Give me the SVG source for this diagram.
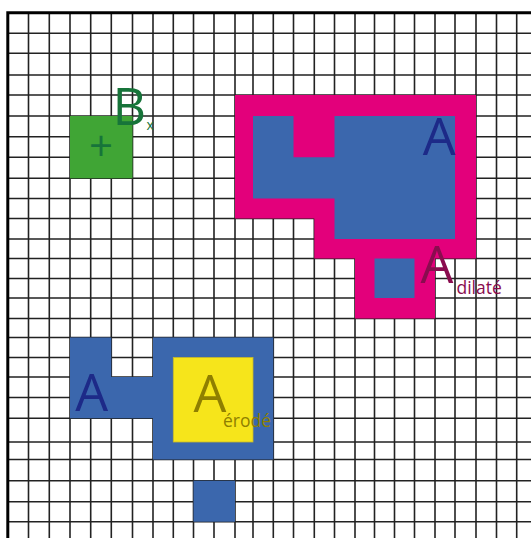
<svg xmlns="http://www.w3.org/2000/svg" width="531" height="538" viewBox="0 0 531 538">
<style>
.grid{fill:none;stroke:#222;stroke-width:1.6}
.border{fill:none;stroke:#000;stroke-width:3}
.blue{fill:#3b67ad}
.mag{fill:#e3007b}
.green{fill:#40a535}
.yellow{fill:#f6e51b;stroke:#c8b82a;stroke-width:0.8}
text{font-family:"Open Sans","DejaVu Sans",sans-serif}
.big{font-size:52px}
.navy{fill:#1d2a88}
.dgreen{fill:#17743a}
.maroon{fill:#8a0c4f}
.olive{fill:#8f7f00}
</style>
<rect width="531" height="538" fill="#fff"/>
<g id="grid">
<path class="grid" d="M28.5 12V538M49.3 12V538M70 12V538M90.7 12V538M111.3 12V538M132.5 12V538M153 12V538M173.3 12V538M193.5 12V538M214 12V538M235 12V538M253 12V538M273.3 12V538M293.5 12V538M314.3 12V538M334.5 12V538M355 12V538M374.5 12V538M394.5 12V538M414.5 12V538M435 12V538M455 12V538M476 12V538M496.5 12V538M516.7 12V538"/>
<path class="grid" d="M7 33.3H531M7 53.3H531M7 75H531M7 95H531M7 116H531M7 136.7H531M7 157.3H531M7 178.3H531M7 198.5H531M7 218.5H531M7 239H531M7 258.5H531M7 278.5H531M7 298H531M7 318.5H531M7 337.5H531M7 357.5H531M7 377H531M7 397.5H531M7 418.3H531M7 442H531M7 459.5H531M7 480.7H531M7 501.7H531M7 521.7H531"/>
<path class="border" d="M531 12.8H7.8V538"/>
</g>
<g id="B">
<rect class="green" x="70" y="116" width="62.5" height="62.3"/>
<text class="dgreen" x="101" y="161" font-size="42" text-anchor="middle">+</text>
<text class="dgreen big" x="112.5" y="124.5">B</text>
<text class="dgreen" x="146.5" y="129.5" font-size="14">x</text>
</g>
<g id="A-dilate">
<polygon class="mag" points="235,95 476,95 476,258.5 435,258.5 435,318.5 355,318.5 355,258.5 314.3,258.5 314.3,218.5 235,218.5"/>
<polygon class="blue" points="253,116 293.5,116 293.5,157.3 334.5,157.3 334.5,116 455,116 455,239 334.5,239 334.5,198.5 253,198.5"/>
<rect class="blue" x="374.5" y="258.5" width="40" height="39.5"/>
<text class="navy big" x="439.3" y="155" text-anchor="middle">A</text>
<text class="maroon big" x="437" y="283.3" text-anchor="middle">A</text>
<text class="maroon" x="456.5" y="293.5" font-size="17.5">dilaté</text>
</g>
<g id="A-erode">
<polygon class="blue" points="70,337.5 111.3,337.5 111.3,377 153,377 153,337.5 273.3,337.5 273.3,459.5 153,459.5 153,418.3 70,418.3"/>
<rect class="yellow" x="173.3" y="357.5" width="79.7" height="84.5"/>
<text class="navy big" x="91.7" y="411" text-anchor="middle">A</text>
<text class="olive big" x="210" y="411.5" text-anchor="middle">A</text>
<text class="olive" x="223" y="427" font-size="17.5">érodé</text>
</g>
<g id="square">
<rect class="blue" x="193.5" y="480.7" width="41.5" height="41"/>
</g>
</svg>
